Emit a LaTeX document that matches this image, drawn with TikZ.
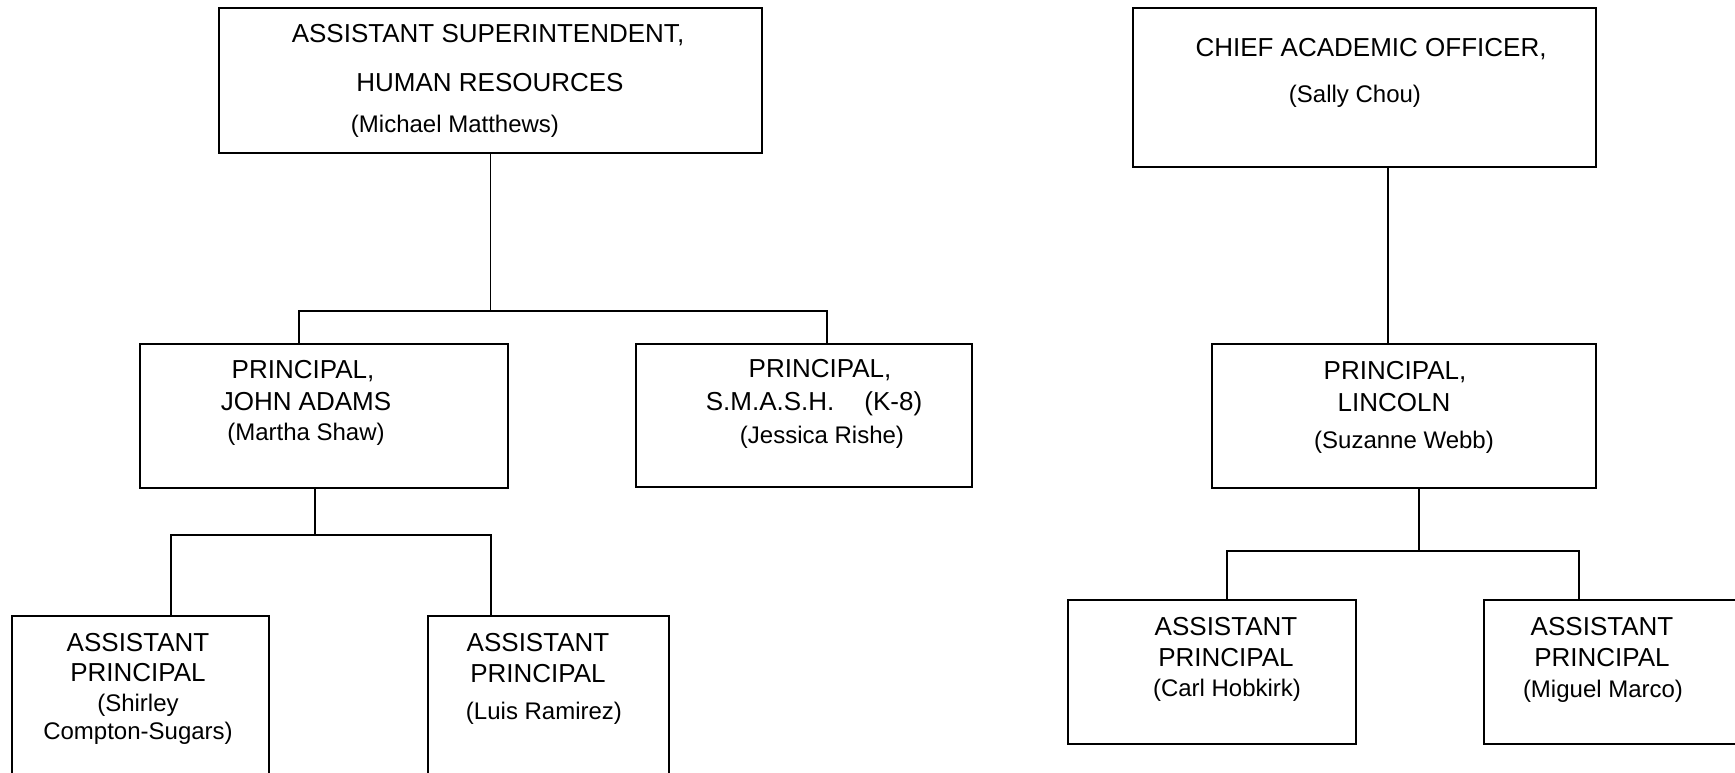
\documentclass[tikz,border=0pt]{standalone}
\usepackage{fontspec}
\setmainfont{Liberation Sans}
\begin{document}
\begin{tikzpicture}[x=1pt,y=-1pt,
  box/.style={draw=black, line width=1.6pt, inner sep=0pt, anchor=north west},
  conn/.style={draw=black, line width=1.6pt},
  ttl/.style={anchor=base, inner sep=0pt, font=\fontsize{26}{30}\selectfont},
  nm/.style={anchor=base, inner sep=0pt, font=\fontsize{24}{28}\selectfont}]
\useasboundingbox (0,0) rectangle (1735,773);
% boxes
\node[box, minimum width=543pt, minimum height=145pt] (hr) at (218,7) {};
\node[box, minimum width=463pt, minimum height=159pt] (cao) at (1132,7) {};
\node[box, minimum width=368pt, minimum height=144pt] (ja) at (139,343) {};
\node[box, minimum width=336pt, minimum height=143pt] (sm) at (635,343) {};
\node[box, minimum width=257pt, minimum height=175pt] (as) at (11,615) {};
\node[box, minimum width=241pt, minimum height=175pt] (lr) at (427,615) {};
\node[box, minimum width=384pt, minimum height=144pt] (li) at (1211,343) {};
\node[box, minimum width=288pt, minimum height=144pt] (ch) at (1067,599) {};
\node[box, minimum width=270pt, minimum height=144pt] (mm) at (1483,599) {};
% texts
\node[ttl] (hr1) at (488,43) {ASSISTANT SUPERINTENDENT,};
\node[ttl] (hr2) at (490,92) {HUMAN RESOURCES};
\node[nm] (hr3) at (455,133) {(Michael Matthews)};
\node[ttl] (cao1) at (1371,57) {CHIEF ACADEMIC OFFICER,};
\node[nm] (cao2) at (1355,103) {(Sally Chou)};
\node[ttl] (ja1) at (303,378) {PRINCIPAL,};
\node[ttl] (ja2) at (306,410) {JOHN ADAMS};
\node[nm] (ja3) at (306,440) {(Martha Shaw)};
\node[ttl] (sm1) at (820,377) {PRINCIPAL,};
\node[ttl] (sm2) at (814,410) {S.M.A.S.H.\hspace*{30pt}(K-8)};
\node[nm] (sm3) at (822,443) {(Jessica Rishe)};
\node[ttl] (as1) at (138,651) {ASSISTANT};
\node[ttl] (as2) at (138,681) {PRINCIPAL};
\node[nm] (as3) at (138,711) {(Shirley};
\node[nm] (as4) at (138,739) {Compton-Sugars)};
\node[ttl] (lr1) at (538,651) {ASSISTANT};
\node[ttl] (lr2) at (538,682) {PRINCIPAL};
\node[nm] (lr3) at (544,719) {(Luis Ramirez)};
\node[ttl] (li1) at (1395,379) {PRINCIPAL,};
\node[ttl] (li2) at (1394,411) {LINCOLN};
\node[nm] (li3) at (1404,448) {(Suzanne Webb)};
\node[ttl] (ch1) at (1226,635) {ASSISTANT};
\node[ttl] (ch2) at (1226,666) {PRINCIPAL};
\node[nm] (ch3) at (1227,696) {(Carl Hobkirk)};
\node[ttl] (mm1) at (1602,635) {ASSISTANT};
\node[ttl] (mm2) at (1602,666) {PRINCIPAL};
\node[nm] (mm3) at (1603,697) {(Miguel Marco)};
% junctions
\coordinate (b1l) at (299,311);
\coordinate (b1r) at (827,311);
\coordinate (jad) at (315,535);
\coordinate (b2l) at (171,535);
\coordinate (b2r) at (491,535);
\coordinate (caod) at (1388,200);
\coordinate (lid) at (1419,551);
\coordinate (b3l) at (1227,551);
\coordinate (b3r) at (1579,551);
% connectors
\draw[conn] (hr.south) -- (hr.south |- b1l);
\draw[conn] (b1l |- ja.north) -- (b1l) -- (b1r) -- (b1r |- sm.north);
\draw[conn] (jad |- ja.south) -- (jad);
\draw[conn] (b2l |- as.north) -- (b2l) -- (b2r) -- (b2r |- lr.north);
\draw[conn] (caod |- cao.south) -- (caod |- li.north);
\draw[conn] (lid |- li.south) -- (lid);
\draw[conn] (b3l |- ch.north) -- (b3l) -- (b3r) -- (b3r |- mm.north);
\end{tikzpicture}
\end{document}
